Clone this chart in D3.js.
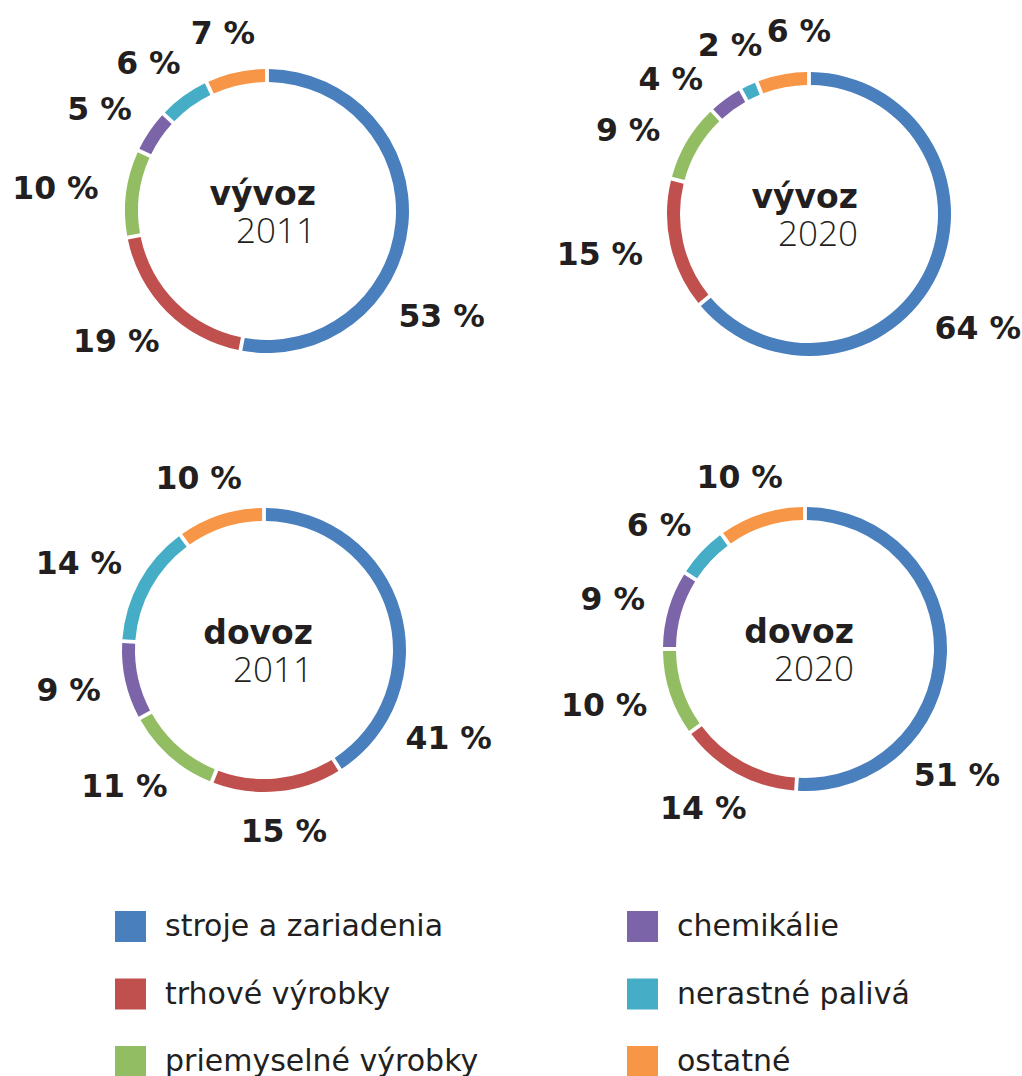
<!DOCTYPE html>
<html>
<head>
<meta charset="utf-8">
<script src="https://cdn.jsdelivr.net/npm/d3@7"></script>
<style>
  html, body { margin: 0; padding: 0; background: #fff; }
  svg { display: block; }
</style>
</head>
<body>
<script>
// Commodity groups and their colours
const categories = ["stroje a zariadenia", "trhové výrobky", "priemyselné výrobky",
                    "chemikálie", "nerastné palivá", "ostatné"];
const colors = ["#4a7fbd", "#c0504d", "#92bd62", "#7c64a8", "#45adc6", "#f79646"];

// Shares in percent, in category order
const vyvoz2011 = [53, 19, 10, 5, 6, 7];
const vyvoz2020 = [64, 15, 9, 4, 2, 6];
const dovoz2011 = [41, 15, 11, 9, 14, 10];
const dovoz2020 = [51, 14, 10, 9, 6, 10];

const flowNames = ["vývoz", "vývoz", "dovoz", "dovoz"];
const years = ["2011", "2020", "2011", "2020"];
const seriesList = [vyvoz2011, vyvoz2020, dovoz2011, dovoz2020];

// Panel layout: ring centre, angle (deg) of the lead-slice label, label radius
const panels = [
  { cx: 267, cy: 211, lead: 125, lr: 170 },
  { cx: 809, cy: 214, lead: 128, lr: 171 },
  { cx: 264, cy: 650, lead: 119, lr: 168 },
  { cx: 805, cy: 649, lead: 134, lr: 168 }
];

const W = 1022, H = 1076;
const outerR = 142, innerR = 129;
const textColor = "#231f20";
const deg = Math.PI / 180;

const svg = d3.select("body").append("svg").attr("width", W).attr("height", H);

const pie = d3.pie().sort(null).value(d => d).startAngle(0).endAngle(2 * Math.PI);
const arc = d3.arc().innerRadius(innerR).outerRadius(outerR).padAngle(0.02);

seriesList.forEach((values, i) => {
  const p = panels[i];
  const g = svg.append("g").attr("transform", `translate(${p.cx},${p.cy})`);
  const arcs = pie(values);

  g.selectAll("path.slice").data(arcs).join("path")
    .attr("class", "slice")
    .attr("d", arc)
    .attr("fill", (d, j) => colors[j]);

  // label angles: the lead slice gets its own angle, the rest sit at mid-angle
  let angles = arcs.map((d, j) => j === 0 ? p.lead * deg : (d.startAngle + d.endAngle) / 2);
  // spread neighbouring small-slice labels apart
  const minSep = 20 * deg;
  for (let it = 0; it < 200; it++) {
    let moved = false;
    for (let j = 1; j < angles.length - 1; j++) {
      const gap = angles[j + 1] - angles[j];
      if (gap < minSep - 1e-6) {
        const push = (minSep - gap) / 2;
        angles[j] -= push; angles[j + 1] += push; moved = true;
      }
    }
    if (!moved) break;
  }

  arcs.forEach((d, j) => {
    const a = angles[j];
    const t = g.append("text")
      .attr("font-family", "'DejaVu Sans', sans-serif")
      .attr("font-weight", 700)
      .attr("font-size", 31.5)
      .attr("fill", textColor)
      .attr("text-anchor", "middle")
      .attr("dy", "0.36em")
      .text(`${d.data} %`);
    const w = t.node().getComputedTextLength();
    const hh = 13;
    const sx = Math.sin(a), cy = -Math.cos(a);
    t.attr("x", p.lr * sx + sx * w / 2)
     .attr("y", p.lr * cy + cy * hh);
  });

  // centre caption
  g.append("text")
    .attr("x", 49).attr("y", -6)
    .attr("text-anchor", "end")
    .attr("font-family", "'DejaVu Sans', sans-serif")
    .attr("font-weight", 700)
    .attr("font-size", 33)
    .attr("fill", textColor)
    .text(flowNames[i]);
  g.append("text")
    .attr("x", 49).attr("y", 32)
    .attr("text-anchor", "end")
    .attr("font-family", "'Open Sans', sans-serif")
    .attr("font-weight", 300)
    .attr("font-size", 35)
    .attr("fill", textColor)
    .text(years[i]);
});

// Legend: two columns of three
const legend = svg.append("g");
categories.forEach((name, k) => {
  const col = Math.floor(k / 3), row = k % 3;
  const x = col === 0 ? 115 : 627;
  const y = 911 + row * 67.5;
  legend.append("rect")
    .attr("x", x).attr("y", y).attr("width", 31).attr("height", 31)
    .attr("fill", colors[k]);
  legend.append("text")
    .attr("x", x + 50).attr("y", y + 25)
    .attr("font-family", "'DejaVu Sans', sans-serif")
    .attr("font-weight", 400)
    .attr("font-size", 30)
    .attr("fill", textColor)
    .text(name);
});
</script>
</body>
</html>
